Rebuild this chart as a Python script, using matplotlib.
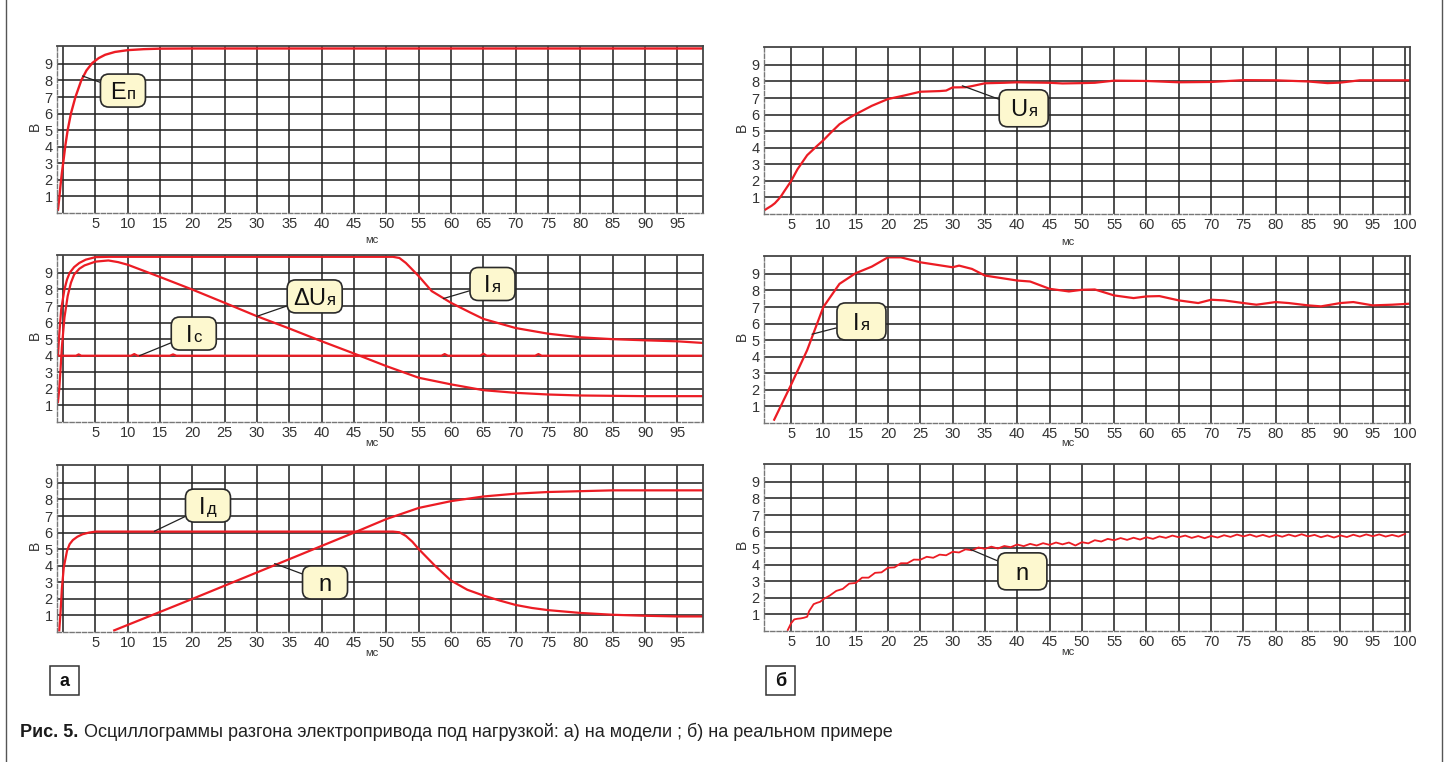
import matplotlib
matplotlib.use('Agg')
import matplotlib.pyplot as plt
import matplotlib.transforms as mtransforms
from matplotlib.patches import FancyBboxPatch, Rectangle
from matplotlib.offsetbox import TextArea, HPacker, AnnotationBbox

plt.rcParams['font.family'] = ['Liberation Sans', 'DejaVu Sans']

# --- а) модель ---
ep_t = [-0.8, -0.6, -0.4, -0.2, 0.0, 0.35, 0.7, 1.2, 1.9, 2.8, 3.6, 4.5, 5.5, 6.5, 8.0,
        10.0, 12.5, 15.0, 20.0, 99.0]
ep_v = [0.2, 0.9, 1.7, 2.4, 3.0, 4.1, 5.0, 6.0, 7.0, 8.0, 8.6, 9.05, 9.35, 9.55, 9.72,
        9.83, 9.89, 9.92, 9.93, 9.93]

ia_t = [-0.8, -0.6, -0.3, 0.2, 0.6, 1.0, 1.7, 2.5, 3.5, 5.0, 7.0, 51.0, 52.0, 53.0, 55.0, 57.0,
        60.0, 63.0, 65.0, 70.0, 75.0, 80.0, 85.0, 90.0, 95.0, 99.0]
ia_v = [4.0, 5.3, 6.8, 8.0, 8.6, 9.0, 9.35, 9.6, 9.8, 9.95, 9.97, 9.97, 9.9, 9.6, 8.8, 7.9,
        7.19, 6.6, 6.22, 5.67, 5.33, 5.11, 5.0, 4.93, 4.87, 4.77]

du_t = [-0.8, -0.6, -0.4, -0.2, 0.2, 0.7, 1.2, 1.7, 2.5, 3.3, 5.0, 7.0, 8.5, 10, 15, 20, 25,
        30, 35, 40, 45, 50, 55, 60, 65, 70, 75, 80, 90, 99]
du_v = [1.2, 2.0, 3.2, 4.5, 6.3, 7.6, 8.4, 8.9, 9.25, 9.45, 9.68, 9.75, 9.65, 9.49, 8.75, 7.99,
        7.19, 6.38, 5.64, 4.87, 4.13, 3.37, 2.67, 2.27, 1.92, 1.76, 1.66, 1.6, 1.56, 1.56]

ic_t = [-0.8, 2.0, 2.4, 2.8, 10.5, 11.0, 11.5, 16.5, 17.0, 17.5, 58.5, 59.0, 59.5,
        64.5, 65.0, 65.5, 73.0, 73.5, 74.0, 99.0]
ic_v = [4.0, 4.0, 4.08, 4.0, 4.0, 4.1, 4.0, 4.0, 4.08, 4.0, 4.0, 4.1, 4.0,
        4.0, 4.12, 4.0, 4.0, 4.1, 4.0, 4.0]

id_t = [-0.6, -0.4, -0.2, 0.1, 0.6, 1.0, 1.5, 2.2, 3.0, 4.0, 5.0, 51.0, 52.0, 53.0, 54.0,
        55.0, 56.0, 57.5, 60.0, 62.5, 65.0, 67.5, 70.0, 72.5, 75.0, 80.0, 85.0, 90.0, 95.0, 99.0]
id_v = [0.1, 1.2, 2.6, 3.9, 4.9, 5.3, 5.55, 5.75, 5.9, 6.0, 6.06, 6.06, 6.02, 5.8, 5.45,
        5.0, 4.6, 4.0, 3.1, 2.55, 2.2, 1.9, 1.63, 1.45, 1.32, 1.15, 1.04, 0.98, 0.94, 0.94]

na_t = [7.9, 20.0, 30.0, 40.0, 45.0, 50.0, 55.0, 60.0, 65.0, 70.0, 75.0, 80.0, 85.0, 99.0]
na_v = [0.1, 2.0, 3.6, 5.2, 6.0, 6.82, 7.49, 7.9, 8.18, 8.35, 8.45, 8.5, 8.55, 8.55]

# --- б) реальный пример ---
ub_t = [1.0, 1.5, 2.0, 2.5, 3.0, 3.5, 4.0, 5.0, 6.0, 7.5, 9.0, 10, 11, 12.5, 14, 15, 17.5, 20,
        22.5, 25, 28, 29, 30, 32, 33, 35, 38, 40, 45, 47, 50, 52, 55, 60, 65, 70, 75, 80, 85,
        88, 90, 93, 100.7]
ub_v = [0.26, 0.38, 0.5, 0.65, 0.86, 1.1, 1.4, 1.98, 2.7, 3.55, 4.1, 4.45, 4.85, 5.42, 5.8,
        6.02, 6.53, 6.94, 7.15, 7.38, 7.42, 7.45, 7.64, 7.65, 7.72, 7.89, 7.92, 7.95, 7.92,
        7.88, 7.9, 7.92, 8.05, 8.03, 7.95, 7.97, 8.08, 8.07, 8.0, 7.9, 7.93, 8.07, 8.07]

ib_t = [2.4, 5, 7.5, 10, 12.5, 15, 17.5, 20, 22, 25, 30, 31, 33, 35, 40, 42, 45, 48, 50, 52,
        55, 58, 60, 62, 65, 68, 70, 72, 75, 77, 80, 82, 85, 87, 90, 92, 95, 98, 100.7]
ib_v = [0.2, 2.3, 4.4, 7.0, 8.4, 9.04, 9.44, 10.0, 10.0, 9.7, 9.4, 9.5, 9.3, 8.9, 8.6, 8.54,
        8.1, 7.94, 8.04, 8.06, 7.7, 7.54, 7.64, 7.66, 7.4, 7.24, 7.44, 7.4, 7.24, 7.14,
        7.3, 7.24, 7.1, 7.04, 7.24, 7.3, 7.1, 7.14, 7.2]

nb_t = [4.5, 5.0, 5.5, 6.0, 6.5, 7.0, 7.5, 7.8, 8.5, 9.0, 9.5] + list(range(10, 101))
nb_v = [0.06, 0.46, 0.7, 0.74, 0.76, 0.8, 0.86, 1.2, 1.62, 1.7, 1.76,
        1.92, 2.14, 2.42, 2.54, 2.86, 2.90, 3.22, 3.22, 3.51, 3.54,
        3.82, 3.84, 4.09, 4.09, 4.31, 4.30, 4.48, 4.42, 4.61, 4.57,
        4.78, 4.74, 4.93, 4.87, 5.04, 4.96, 5.09, 4.98, 5.13, 5.06,
        5.22, 5.12, 5.26, 5.16, 5.30, 5.20, 5.34, 5.23, 5.34, 5.16,
        5.36, 5.29, 5.48, 5.40, 5.56, 5.48, 5.61, 5.50, 5.63, 5.52,
        5.66, 5.56, 5.71, 5.62, 5.76, 5.66, 5.76, 5.62, 5.73, 5.60,
        5.74, 5.64, 5.78, 5.68, 5.82, 5.71, 5.82, 5.69, 5.80, 5.68,
        5.80, 5.69, 5.82, 5.71, 5.84, 5.71, 5.80, 5.66, 5.77, 5.64,
        5.77, 5.67, 5.81, 5.70, 5.83, 5.72, 5.83, 5.70, 5.80, 5.70, 5.86]

W, H, DPI = 1447, 762, 100
RED = '#ec1c24'
fig = plt.figure(figsize=(W / DPI, H / DPI), dpi=DPI)

# рамка
fig.add_artist(Rectangle((6 / W, -0.02), 1436 / W, 1.04, transform=fig.transFigure,
                         fill=False, ec='#555555', lw=1.0))


def make_axes(left_px, top_px, right):
    ax = fig.add_axes([left_px / W, 1 - (top_px + 167) / H, 646 / W, 167 / H])
    ax.set_ylim(0, 10.08)
    if right:
        ax.set_xlim(0.82, 100.77)
        xt = list(range(5, 101, 5))
        ax.set_xticks(xt)
        ax.set_xticklabels([str(v) for v in xt])
    else:
        ax.set_xlim(-0.95, 98.95)
        xt = list(range(0, 100, 5))
        ax.set_xticks(xt)
        ax.set_xticklabels([''] + [str(v) for v in xt[1:]])
    ax.set_yticks(range(1, 10))
    ax.set_axisbelow(True)
    ax.grid(True, color='#262626', lw=1.15)
    ax.tick_params(length=0, labelsize=10.5, labelcolor='#333333', pad=3)
    for s in ['top', 'right']:
        ax.spines[s].set_color('#444444')
        ax.spines[s].set_linewidth(1.3)
    for s in ['left', 'bottom']:
        ax.spines[s].set_color('#777777')
        ax.spines[s].set_linewidth(1.0)
        ax.spines[s].set_linestyle((0, (3, 1.5)))
    ax.text(-0.034, 0.52, 'В', transform=ax.transAxes, rotation=90, fontsize=10,
            color='#333333', ha='center', va='center')
    return ax


def mc_label(ax, y_off):
    ax.text(47.8, y_off, 'мс', transform=ax.get_xaxis_transform(), fontsize=8,
            color='#333333', ha='center', va='center')


def callout(ax, xy, center, main, sub, w=45, h=33):
    tr = fig.dpi_scale_trans + mtransforms.ScaledTranslation(center[0], center[1], ax.transData)
    box = FancyBboxPatch((-w / 2 / DPI, -h / 2 / DPI), w / DPI, h / DPI,
                         boxstyle='round,pad=0,rounding_size=0.085', transform=tr,
                         fc='#fdf8cf', ec='#2a2a2a', lw=1.2, zorder=6, clip_on=False)
    ax.add_patch(box)
    ax.annotate('', xy=xy, xytext=center, xycoords='data', textcoords='data',
                arrowprops=dict(arrowstyle='-', color='#222222', lw=0.9, patchA=box,
                                shrinkA=0, shrinkB=0), zorder=5)
    kids = [TextArea(main, textprops=dict(fontsize=17, color='#111111'))]
    if sub:
        kids.append(TextArea(sub, textprops=dict(fontsize=12, color='#111111')))
    pack = HPacker(children=kids, align='baseline', pad=0, sep=1)
    ab = AnnotationBbox(pack, center, xycoords='data', frameon=False,
                        box_alignment=(0.5, 0.6), zorder=7)
    ax.add_artist(ab)


# а1
a1 = make_axes(57, 46, False)
a1.plot(ep_t, ep_v, color=RED, lw=1.7)
mc_label(a1, -0.16)
callout(a1, (3.0, 8.27), (9.25, 7.39), 'E', 'п')

# а2
a2 = make_axes(57, 255, False)
a2.plot(ic_t, ic_v, color=RED, lw=1.6)
a2.plot(du_t, du_v, color=RED, lw=1.6)
a2.plot(ia_t, ia_v, color=RED, lw=1.6)
mc_label(a2, -0.125)
callout(a2, (11.8, 4.0), (20.2, 5.34), 'I', 'с')
callout(a2, (29.9, 6.37), (38.9, 7.58), 'ΔU', 'я', w=55)
callout(a2, (58.8, 7.45), (66.4, 8.33), 'I', 'я')

# а3
a3 = make_axes(57, 465, False)
a3.plot(id_t, id_v, color=RED, lw=1.6)
a3.plot(na_t, na_v, color=RED, lw=1.6)
mc_label(a3, -0.125)
callout(a3, (14.1, 6.08), (22.4, 7.63), 'I', 'д')
callout(a3, (32.7, 4.13), (40.5, 2.99), 'n', '')

# б1
b1 = make_axes(764, 47, True)
b1.plot(ub_t, ub_v, color=RED, lw=1.6)
mc_label(b1, -0.168)
callout(b1, (31.5, 7.74), (41.0, 6.38), 'U', 'я', w=49, h=37)

# б2
b2 = make_axes(764, 256, True)
b2.plot(ib_t, ib_v, color=RED, lw=1.6)
mc_label(b2, -0.12)
callout(b2, (8.25, 5.36), (15.9, 6.13), 'I', 'я', w=49, h=37)

# б3
b3 = make_axes(764, 464, True)
b3.plot(nb_t, nb_v, color=RED, lw=1.3)
mc_label(b3, -0.126)
callout(b3, (32.8, 4.92), (40.8, 3.6), 'n', '', w=49, h=37)

# метки "а" и "б"
for cx, letter in [(64.5, 'а'), (780.5, 'б')]:
    fig.add_artist(Rectangle(((cx - 14.5) / W, 1 - 695 / H), 29 / W, 29 / H,
                             transform=fig.transFigure, fill=True, fc='white',
                             ec='#333333', lw=1.1))
    fig.text(cx / W, 1 - 681 / H, letter, fontsize=13, fontweight='bold',
             ha='center', va='center', color='#111111')

# подпись
bold = fig.text(20 / W, 1 - 741 / H, 'Рис. 5.', fontsize=13, fontweight='bold',
                color='#1a1a1a', va='bottom')
a1.annotate('Осциллограммы разгона электропривода под нагрузкой: а) на модели ; '
            'б) на реальном примере', xy=(1, 0), xycoords=bold, xytext=(4, 0),
            textcoords='offset points', fontsize=13,
            color='#222222', va='bottom', annotation_clip=False)

fig.savefig('out.png', dpi=DPI)
